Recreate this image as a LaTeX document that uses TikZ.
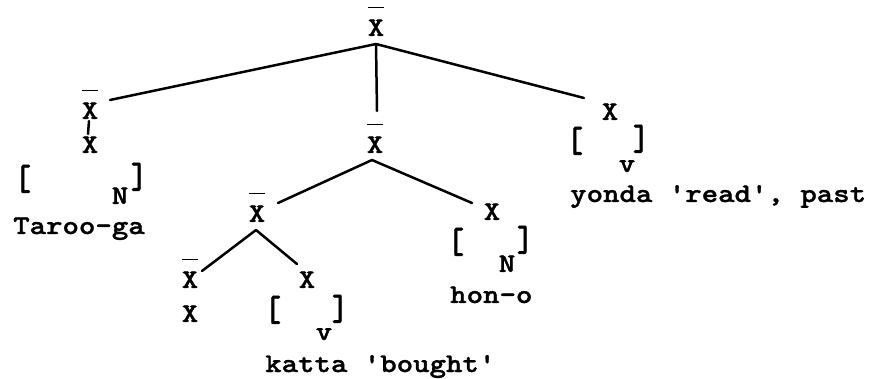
\documentclass[tikz,border=0pt]{standalone}
\usepackage{graphicx}
\usepackage{fontspec}
\setmonofont{lmmono10-regular.otf}[BoldFont=lmmonolt10-bold.otf,BoldFeatures={FakeBold=1.2},FakeStretch=1.16]
\newcommand\xbar{\rlap{\raisebox{1.02em}{\rule{0.61em}{1.7pt}}}X}
\newcommand\brk[1]{\scalebox{1}[1.35]{#1}}
\begin{document}
\begin{tikzpicture}[x=1pt,y=-1pt,
  lab/.style={inner sep=0pt,anchor=base,font=\ttfamily\fontsize{27}{30}\selectfont\bfseries},
  txt/.style={lab,anchor=base west},
  edge/.style={line width=2.5pt,line cap=round}]
\useasboundingbox (0,0) rectangle (873,379);
% nodes
\node[lab] (root) at (376,36) {\xbar};
\node[lab] (lxb) at (90,119) {\xbar};
\node[lab] (lx) at (90,153) {X};
\node[lab] (lbl) at (23,190) {\brk{[}};
\node[lab] (lbr) at (139,188) {\brk{]}};
\node[lab] (ln) at (120,204) {N};
\node[txt] (taroo) at (13,234) {Taroo-ga};
\node[lab] (mxb) at (375,153) {\xbar};
\node[lab] (rx) at (610,120) {X};
\node[lab] (rbl) at (575,152) {\brk{[}};
\node[lab] (rbr) at (641,150) {\brk{]}};
\node[lab] (rv) at (627,172) {v};
\node[txt] (yonda) at (570,202) {yonda 'read', past};
\node[lab] (mlxb) at (257,222) {\xbar};
\node[lab] (hx) at (492,220) {X};
\node[lab] (hbl) at (456,253) {\brk{[}};
\node[lab] (hbr) at (525,251) {\brk{]}};
\node[lab] (hn) at (507,272) {N};
\node[txt] (hono) at (450,303) {hon-o};
\node[lab] (blxb) at (190,288) {\xbar};
\node[lab] (blx) at (190,322) {X};
\node[lab] (kx) at (307,288) {X};
\node[lab] (kbl) at (273,321) {\brk{[}};
\node[lab] (kbr) at (340,320) {\brk{]}};
\node[lab] (kv) at (324,340) {v};
\node[txt] (katta) at (265,372) {katta 'bought'};
% connector end points
\coordinate (root-s) at (376,44);
\coordinate (lxb-e) at (110,100);
\coordinate (mxb-n) at (377,111);
\coordinate (rx-w) at (584,98);
\coordinate (lxb-s) at (89,121);
\coordinate (lx-n) at (88,134);
\coordinate (mxb-s) at (372,160);
\coordinate (mlxb-e) at (278,203);
\coordinate (hx-w) at (472,203);
\coordinate (mlxb-s) at (256,230);
\coordinate (blxb-e) at (202,271);
\coordinate (kx-n) at (297,264);
% connectors
\draw[edge] (root-s) -- (lxb-e);
\draw[edge] (root-s) -- (mxb-n);
\draw[edge] (root-s) -- (rx-w);
\draw[edge] (lxb-s) -- (lx-n);
\draw[edge] (mxb-s) -- (mlxb-e);
\draw[edge] (mxb-s) -- (hx-w);
\draw[edge] (mlxb-s) -- (blxb-e);
\draw[edge] (mlxb-s) -- (kx-n);
\end{tikzpicture}
\end{document}
